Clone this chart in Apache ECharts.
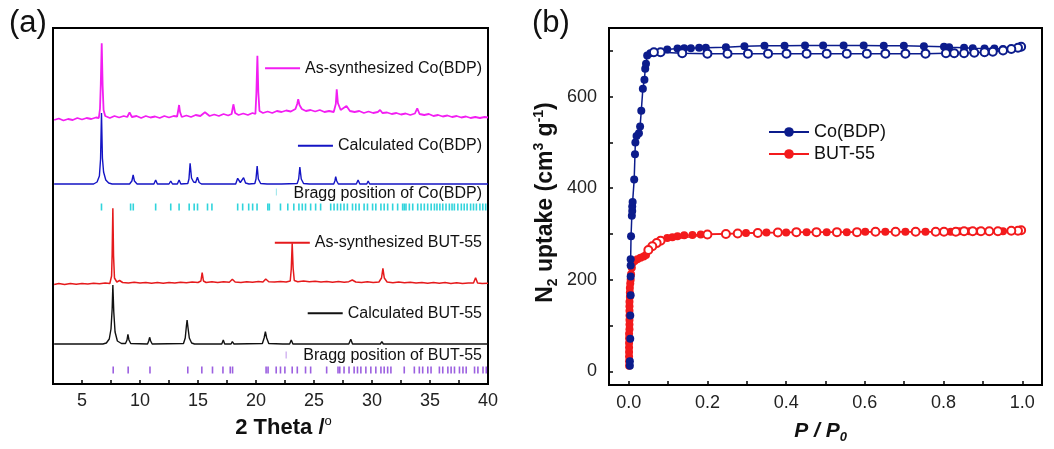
<!DOCTYPE html>
<html><head><meta charset="utf-8">
<script src="https://cdn.jsdelivr.net/npm/echarts@6/dist/echarts.min.js"></script>
<style>html,body{margin:0;padding:0;background:#fff}#c{width:1054px;height:449px}
#err{position:absolute;left:2px;top:430px;font:10px sans-serif;color:#c00}</style>
</head><body><div id="c"></div><div id="err"></div>
<script>
window.onerror = function(m){ document.getElementById('err').textContent += ' ' + m; };
// ---------- Panel (a): PXRD patterns, [2theta, stacked intensity (a.u.)] ----------
const pxrdAsCo = [[2.6,264],[3.0,265.5],[3.4,263.5],[3.8,265],[4.2,264],[4.6,266],[5.0,264.5],[5.4,266],[5.8,265],[6.2,266.5],[6.45,266],[6.55,275],[6.62,300],[6.70,340.7],[6.78,298],[6.86,274],[7.0,268],[7.4,266],[7.8,268],[8.2,266.5],[8.6,268],[8.9,267],[9.1,271.7],[9.3,267],[9.7,268],[10.1,266],[10.5,268],[10.9,266.5],[11.3,267.5],[11.7,266],[12.1,268],[12.5,266.5],[12.9,268],[13.2,267.5],[13.3,274],[13.37,279],[13.45,272],[13.6,267],[14.0,268.5],[14.4,267],[14.8,269],[15.2,268],[15.6,271.7],[16.0,268],[16.4,269.5],[16.8,268],[17.2,270],[17.6,268.5],[17.9,270],[18.05,279.7],[18.2,271],[18.5,269],[18.9,270.5],[19.3,269],[19.7,271],[19.95,270],[20.03,290],[20.12,328.3],[20.2,292],[20.3,273],[20.6,271],[21.0,272.5],[21.4,271],[21.8,273],[22.2,272],[22.6,273.5],[23.0,272.5],[23.4,275],[23.55,280],[23.64,284.7],[23.75,279],[23.95,275],[24.3,273],[24.7,274],[25.1,272.5],[25.5,274],[25.9,272],[26.3,273],[26.7,272],[26.88,280],[26.96,294.7],[27.06,281],[27.3,274],[27.8,278],[28.1,273],[28.5,272],[28.9,273],[29.3,271],[29.7,272.5],[30.1,271],[30.5,272],[30.7,274],[30.9,271],[31.3,271.5],[31.7,270],[32.1,271],[32.5,269.5],[32.9,270.5],[33.3,269],[33.7,270.5],[33.9,275.7],[34.1,270],[34.5,269],[34.9,270],[35.3,268],[35.7,269],[36.1,267.5],[36.5,268.5],[36.9,267],[37.3,268],[37.7,266.5],[38.1,267.5],[38.5,266],[38.9,267],[39.3,266],[39.7,267],[40.0,266.5]];

const pxrdCalcCo = [[2.6,200],[6.0,200],[6.3,202],[6.5,208],[6.6,225],[6.68,271],[6.76,226],[6.86,212],[7.05,204],[7.3,201],[7.6,200],[9.1,200],[9.3,203],[9.41,209],[9.52,203],[9.75,200],[11.2,200],[11.35,204],[11.5,200],[12.5,200],[12.65,203],[12.8,200],[13.22,200],[13.37,204],[13.52,200],[14.12,200.5],[14.22,205],[14.32,220.7],[14.44,206],[14.62,202],[14.8,201.5],[14.95,206.7],[15.1,201.5],[15.3,200],[16.2,200],[16.3,202],[16.4,200],[18.25,200],[18.42,205.7],[18.65,201.5],[18.93,206.3],[19.1,201],[19.4,200],[19.9,200.5],[20.0,205],[20.1,218],[20.2,205],[20.4,200.5],[20.95,200],[21.1,202],[21.25,200],[22.0,200],[22.1,201.5],[22.2,200],[23.55,200.5],[23.68,205],[23.78,217],[23.9,205],[24.1,200.5],[24.6,200],[24.7,202],[24.8,200],[26.7,200],[26.8,203],[26.87,207.3],[26.96,203],[27.1,200],[27.8,200],[27.9,202],[28.0,200],[28.65,200],[28.8,204],[28.95,200],[29.55,200],[29.67,203],[29.8,200],[30.9,200],[31.0,201.5],[31.1,200],[32.4,200],[32.5,201.5],[32.6,200],[33.4,200],[33.5,201.5],[33.6,200],[34.9,200],[35.0,201.5],[35.1,200],[36.1,200],[36.2,201.5],[36.3,200],[37.4,200],[37.5,201.5],[37.6,200],[38.6,200],[38.7,201.5],[38.8,200],[39.4,200],[39.5,201.5],[39.6,200],[40.0,200]];

const pxrdAsBut = [[2.6,99.5],[3.0,100.5],[3.5,99.5],[4.0,100.5],[4.5,99.8],[5.0,100.6],[5.5,100],[6.0,100.8],[6.5,100.2],[7.0,101],[7.4,100.5],[7.55,108],[7.6,130],[7.66,175.7],[7.72,128],[7.8,106],[8.0,102],[8.24,103.5],[8.5,101.5],[9.0,101],[9.5,101.8],[10.0,101],[10.5,101.6],[11.0,100.8],[11.5,101.5],[12.0,100.8],[12.5,101.5],[13.0,101],[13.5,101.8],[14.0,101.2],[14.5,102],[15.0,101.5],[15.25,103],[15.36,111.3],[15.47,103],[15.7,101.5],[16.2,102.3],[16.7,101.5],[17.2,102.2],[17.7,101.8],[17.96,104.7],[18.2,102],[18.7,101.5],[19.2,102.3],[19.7,101.8],[20.2,102.5],[20.6,102],[20.84,105],[21.1,102.3],[21.6,102],[22.1,102.5],[22.6,102],[22.95,103],[23.04,115],[23.12,140.7],[23.2,116],[23.3,103.5],[23.6,102.3],[24.1,103],[24.6,102.2],[25.1,102.8],[25.6,102],[26.1,102.6],[26.6,101.8],[27.1,102.5],[27.6,101.8],[28.0,102.3],[28.3,104],[28.6,102],[29.1,101.5],[29.6,102.2],[30.1,101.5],[30.6,102],[30.82,106],[30.94,115.7],[31.06,106],[31.3,102],[31.8,101.3],[32.3,102],[32.8,101.2],[33.3,101.8],[33.8,101],[34.3,101.6],[34.8,100.8],[35.3,101.5],[35.8,100.8],[36.3,101.4],[36.8,100.6],[37.3,101.2],[37.8,100.5],[38.3,101.1],[38.75,101],[38.93,106.3],[39.1,101],[39.5,100.5],[40.0,100.7]];

const pxrdCalcBut = [[2.6,40],[6.8,40],[7.1,41],[7.35,45],[7.5,55],[7.6,75],[7.66,99],[7.74,72],[7.85,52],[8.05,43],[8.4,40.5],[8.75,40.5],[8.88,44],[8.96,49.7],[9.05,44],[9.2,40.5],[10.65,40],[10.75,43],[10.83,46.7],[10.92,43],[11.05,40],[13.75,40.5],[13.9,46],[14.0,58],[14.06,64],[14.13,57],[14.25,46],[14.45,41],[14.7,40],[17.05,40],[17.18,44],[17.3,40],[17.85,40],[17.96,42.3],[18.1,40],[20.55,40.5],[20.7,46],[20.81,52.3],[20.92,46],[21.1,40.5],[22.3,40],[22.4,41.5],[22.5,40],[22.9,40],[23.04,44],[23.18,40],[23.45,40],[23.55,41.2],[23.65,40],[28.0,40],[28.17,44.7],[28.32,40],[29.4,40],[29.5,41.3],[29.6,40],[30.1,40],[30.2,41.3],[30.3,40],[30.72,40],[30.85,42.3],[30.98,40],[33.4,40],[33.5,41.2],[33.6,40],[34.9,40],[35.0,41.2],[35.1,40],[36.4,40],[36.5,41.2],[36.6,40],[37.4,40],[37.5,41.2],[37.6,40],[39.4,40],[39.5,41.2],[39.6,40],[40.0,40]];

// Bragg reflection positions (2theta) and the row level they are drawn at
const braggCo = [6.68,9.19,9.42,11.35,12.65,13.37,14.24,14.67,14.96,15.82,16.2,18.42,18.85,19.37,19.71,20.09,21.02,21.15,22.11,22.74,23.26,23.7,23.99,24.27,24.71,25.14,25.57,26.44,26.73,27.02,27.3,27.59,27.88,28.32,28.6,28.89,29.32,29.61,30.05,30.33,30.77,31.05,31.35,31.78,32.21,32.64,32.78,32.93,33.22,33.51,33.94,34.23,34.51,34.8,35.1,35.38,35.6,35.85,36.1,36.38,36.67,36.9,37.1,37.4,37.7,37.95,38.2,38.5,38.75,39.0,39.3,39.55,39.8];
const braggCoLevel = 177;
const braggCoExtra = [[21.76,192]];
const braggBut = [7.69,8.98,10.86,14.12,15.33,16.25,17.15,17.78,17.98,20.87,21.04,21.74,22.11,22.49,23.12,23.56,24.27,24.71,26.09,27.07,27.22,27.59,28.02,28.46,28.75,29.04,29.47,29.9,30.33,30.77,31.05,31.35,31.63,32.78,33.65,34.08,34.37,34.81,35.09,35.81,36.1,36.54,36.82,37.11,37.54,37.84,38.12,38.84,39.13,39.57,39.85];
const braggButLevel = 14;
const braggButExtra = [[22.6,29]];

const xTicksA = [5,10,15,20,25,30,35,40];

// ---------- Panel (b): N2 isotherms, [P/P0, uptake cm3/g] ----------
const coAds = [[0.003,12],[0.003,22],[0.004,71],[0.004,122],[0.005,166],[0.005,207],[0.005,231],[0.005,245],[0.006,295],[0.008,340],[0.009,350],[0.009,360],[0.010,370],[0.014,419],[0.016,474],[0.017,500],[0.020,514],[0.026,520],[0.029,535],[0.032,569],[0.036,617],[0.040,637],[0.042,661],[0.044,672],[0.047,690],[0.055,695],[0.098,703],[0.124,705],[0.141,706],[0.158,706],[0.179,707],[0.196,707],[0.247,708],[0.294,710],[0.345,711],[0.396,711],[0.448,712],[0.494,712],[0.546,712],[0.597,712],[0.648,711],[0.699,711],[0.750,710],[0.801,709],[0.814,708],[0.852,707],[0.874,706],[0.904,705],[0.929,705],[0.951,704]];
const coDes = [[0.997,709],[0.989,707],[0.972,704],[0.951,701],[0.925,698],[0.904,697],[0.878,696],[0.852,695],[0.827,695],[0.806,695],[0.754,694],[0.703,694],[0.652,694],[0.605,694],[0.554,694],[0.503,694],[0.452,694],[0.401,694],[0.354,694],[0.303,694],[0.251,694],[0.200,694],[0.136,695],[0.081,697],[0.064,697]];
const butAds = [[0.001,12],[0.001,22],[0.001,32],[0.001,42],[0.001,52],[0.001,62],[0.001,72],[0.001,82],[0.002,92],[0.002,102],[0.002,112],[0.002,122],[0.002,132],[0.002,142],[0.002,152],[0.003,162],[0.003,172],[0.003,182],[0.004,192],[0.005,200],[0.006,212],[0.008,226],[0.010,237],[0.015,241],[0.022,245],[0.030,248],[0.038,251],[0.044,254],[0.098,291],[0.111,293],[0.124,295],[0.141,297],[0.162,298],[0.183,299],[0.298,302],[0.350,303],[0.400,303],[0.452,304],[0.503,304],[0.554,304],[0.601,305],[0.652,305],[0.703,305],[0.754,305],[0.818,305],[0.840,306],[0.865,306],[0.890,306],[0.915,306],[0.940,306],[0.951,306]];
const butDes = [[0.997,308],[0.989,307],[0.972,307],[0.938,306],[0.916,306],[0.895,306],[0.874,306],[0.852,306],[0.831,305],[0.801,305],[0.780,305],[0.729,305],[0.678,305],[0.627,305],[0.580,304],[0.529,304],[0.477,304],[0.426,304],[0.379,303],[0.328,302],[0.277,301],[0.247,300],[0.200,299],[0.081,285],[0.071,280],[0.060,273],[0.050,265]];

const xTicksB = [0,0.2,0.4,0.6,0.8,1.0];
const yTicksB = [0,200,400,600];

// ---------- chart ----------
const F = '"Liberation Sans", Arial, Helvetica, sans-serif';
const C = {mag:'#f21ef2', blu:'#1414c4', red:'#e51a1c', blk:'#111', cyan:'#30d4dc', pur:'#9c60e0', navy:'#0c1c8c', red2:'#f31a1c'};
const isTick = (arr, v) => arr.some(t => Math.abs(t - v) < 1e-6);

const chart = echarts.init(document.getElementById('c'), null, {renderer:'canvas'});
const legendText = {fontSize:16, color:'#111', fontFamily:F};
function lg(name, top, extra) {
  return Object.assign({data:[name], right:572, top:top, padding:0, icon:'rect', itemWidth:35, itemHeight:2,
    selectedMode:false, textStyle:legendText}, extra || {});
}
function braggSeries(name, data, color, w) {
  return {name:name, type:'line', xAxisIndex:0, yAxisIndex:0, data:data, showSymbol:true,
    symbol:'rect', symbolSize:[w,7], lineStyle:{width:0, opacity:0}, itemStyle:{color:color}};
}

chart.setOption({
  animation:false,
  title:[
    {text:'(a)', left:9, top:8, padding:0, textStyle:{fontSize:31, fontWeight:'normal', color:'#111', fontFamily:F}},
    {text:'(b)', left:532, top:8, padding:0, textStyle:{fontSize:31, fontWeight:'normal', color:'#111', fontFamily:F}}
  ],
  grid:[
    {left:53, top:28, width:435, height:356, show:true, borderColor:'#000', borderWidth:2},
    {left:609, top:28, width:433, height:357, show:true, borderColor:'#000', borderWidth:2}
  ],
  legend:[
    lg('As-synthesized Co(BDP)', 60.3),
    lg('Calculated Co(BDP)', 137.7),
    lg('Bragg position of Co(BDP)', 185.3, {itemWidth:0, itemHeight:0}),
    lg('As-synthesized BUT-55', 234.7),
    lg('Calculated BUT-55', 305.3),
    lg('Bragg position of BUT-55', 347.7, {itemWidth:0, itemHeight:0}),
    {data:['Co(BDP)','BUT-55'], left:768, top:123, orient:'vertical', padding:0, itemWidth:40, itemHeight:12, itemGap:4,
     selectedMode:false, textStyle:{fontSize:18, color:'#111', fontFamily:F}}
  ],
  xAxis:[
    {gridIndex:0, type:'value', position:'bottom', min:2.5, max:40, interval:2.5,
     axisLine:{show:true, onZero:false, lineStyle:{color:'#000', width:2}},
     axisTick:{show:true, inside:true, length:4, lineStyle:{color:'#000', width:1.5}},
     axisLabel:{margin:8, fontSize:18, color:'#222', fontFamily:F, formatter:v => isTick(xTicksA, v) ? String(v) : ''},
     splitLine:{show:false},
     name:'{b|2 Theta /}{sup|o}', nameLocation:'middle', nameGap:26,
     nameTextStyle:{padding:[0,0,0,26], rich:{
       b:{fontSize:22, fontWeight:'bold', fontFamily:F, color:'#111', lineHeight:26},
       sup:{fontSize:13, fontFamily:F, color:'#111', lineHeight:14, verticalAlign:'top'}}}},
    {gridIndex:1, type:'value', position:'bottom', min:-0.05, max:1.05, splitNumber:11,
     axisLine:{show:true, onZero:false, lineStyle:{color:'#000', width:2}},
     axisTick:{show:true, inside:true, length:4, lineStyle:{color:'#000', width:1.5}},
     axisLabel:{margin:9, fontSize:18, color:'#222', fontFamily:F,
       formatter:v => isTick(xTicksB, v) ? v.toFixed(1) : ''},
     splitLine:{show:false},
     name:'{i|P / P}{s|0}', nameLocation:'middle', nameGap:33,
     nameTextStyle:{padding:[0,10,0,0], rich:{
       i:{fontSize:21, fontWeight:'bold', fontStyle:'italic', fontFamily:F, color:'#111', lineHeight:26},
       s:{fontSize:13, fontWeight:'bold', fontStyle:'italic', fontFamily:F, color:'#111', lineHeight:12, verticalAlign:'bottom'}}}}
  ],
  yAxis:[
    {gridIndex:0, type:'value', min:0, max:356, show:false},
    {gridIndex:1, type:'value', position:'left', min:-30, max:750, splitNumber:8,
     axisLine:{show:true, onZero:false, lineStyle:{color:'#000', width:2}},
     axisTick:{show:true, inside:true, length:4, lineStyle:{color:'#000', width:1.5}},
     axisLabel:{margin:12, fontSize:18, color:'#222', fontFamily:F, formatter:v => isTick(yTicksB, v) ? String(v) : ''},
     splitLine:{show:false},
     name:'{b|N}{sub|2}{b| uptake (cm}{sup|3}{b| g}{sup|-1}{b|)}', nameLocation:'middle', nameGap:49,
     nameTextStyle:{padding:[0,0,0,8], rich:{
       b:{fontSize:23, fontWeight:'bold', fontFamily:F, color:'#111', lineHeight:28},
       sub:{fontSize:14, fontWeight:'bold', fontFamily:F, color:'#111', lineHeight:12, verticalAlign:'bottom'},
       sup:{fontSize:14, fontWeight:'bold', fontFamily:F, color:'#111', lineHeight:16, verticalAlign:'top'}}}}
  ],
  series:[
    {name:'Calculated BUT-55', type:'line', xAxisIndex:0, yAxisIndex:0, data:pxrdCalcBut, symbol:'none',
     lineStyle:{color:C.blk, width:1.4}, itemStyle:{color:C.blk}},
    {name:'As-synthesized BUT-55', type:'line', xAxisIndex:0, yAxisIndex:0, data:pxrdAsBut, symbol:'none',
     lineStyle:{color:C.red, width:1.5}, itemStyle:{color:C.red}},
    braggSeries('Bragg position of BUT-55', braggBut.map(x => [x, braggButLevel]), C.pur, 1.6),
    braggSeries('Bragg position of BUT-55', braggButExtra, '#c9a6ee', 1.2),
    {name:'Calculated Co(BDP)', type:'line', xAxisIndex:0, yAxisIndex:0, data:pxrdCalcCo, symbol:'none',
     lineStyle:{color:C.blu, width:1.4}, itemStyle:{color:C.blu}},
    {name:'As-synthesized Co(BDP)', type:'line', xAxisIndex:0, yAxisIndex:0, data:pxrdAsCo, symbol:'none',
     lineStyle:{color:C.mag, width:1.8}, itemStyle:{color:C.mag}},
    braggSeries('Bragg position of Co(BDP)', braggCo.map(x => [x, braggCoLevel]), C.cyan, 1.6),
    braggSeries('Bragg position of Co(BDP)', braggCoExtra, '#a6e8ec', 1.2),

    {name:'BUT-55', type:'line', xAxisIndex:1, yAxisIndex:1, data:butAds, symbol:'circle', symbolSize:8,
     lineStyle:{color:C.red2, width:1.5}, itemStyle:{color:C.red2}},
    {name:'BUT-55', type:'line', xAxisIndex:1, yAxisIndex:1, data:butDes, symbol:'emptyCircle', symbolSize:8,
     lineStyle:{color:C.red2, width:1.5}, itemStyle:{color:C.red2, borderWidth:1}},
    {name:'Co(BDP)', type:'line', xAxisIndex:1, yAxisIndex:1, data:coAds, symbol:'circle', symbolSize:8,
     lineStyle:{color:C.navy, width:1.5}, itemStyle:{color:C.navy}},
    {name:'Co(BDP)', type:'line', xAxisIndex:1, yAxisIndex:1, data:coDes, symbol:'emptyCircle', symbolSize:8,
     lineStyle:{color:C.navy, width:1.5}, itemStyle:{color:C.navy, borderWidth:1}}
  ]
});
</script></body></html>
